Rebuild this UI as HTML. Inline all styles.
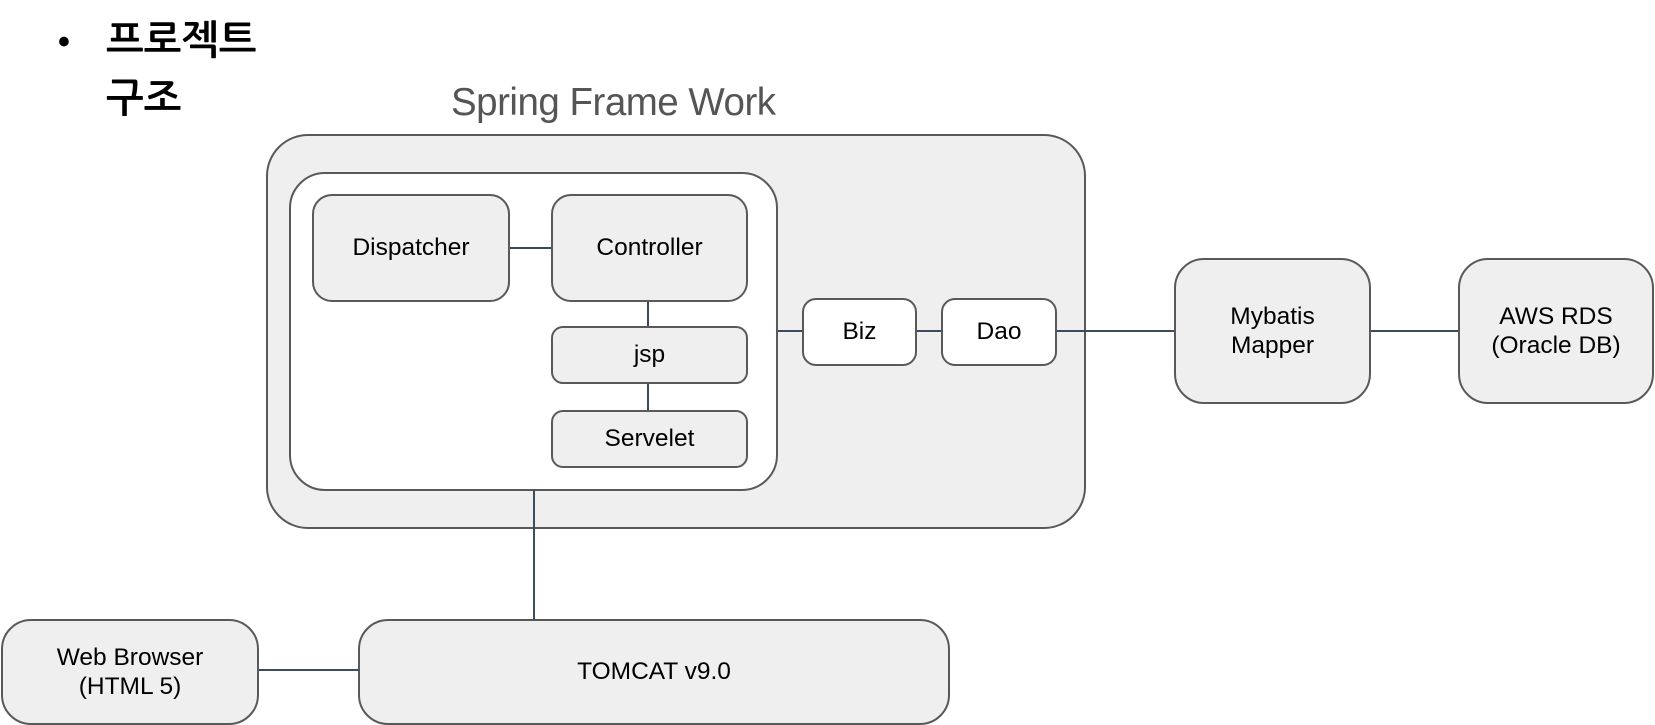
<!DOCTYPE html>
<html><head><meta charset="utf-8"><style>
body{margin:0;width:1655px;height:725px;background:#fff;position:relative;overflow:hidden;font-family:"Liberation Sans",Arial,sans-serif}
.b{position:absolute;box-sizing:border-box;border:2px solid #595959;background:#efefef;display:flex;align-items:center;justify-content:center;text-align:center;font-size:24.5px;color:#000;line-height:1.2}
.l{position:absolute;background:#3d4b5f;z-index:5}
</style></head><body>
<div style="position:absolute;left:58px;top:16px;font-size:34px;font-weight:bold;line-height:52px">•</div>
<div style="position:absolute;left:106px;top:12px;font-size:40px;font-weight:bold;font-family:'Liberation Sans','NanumGothic','Noto Sans CJK KR',sans-serif;line-height:58px">프로젝트<br>구조</div>
<div style="position:absolute;left:451px;top:81px;font-size:38.5px;color:#555;letter-spacing:-0.5px">Spring Frame Work</div>

<div class="b" style="left:266px;top:134px;width:820px;height:395px;border-radius:42px"></div>
<div class="b" style="left:289px;top:172px;width:489px;height:319px;border-radius:36px;background:#fff"></div>
<div class="b" style="left:312px;top:194px;width:198px;height:108px;border-radius:20px">Dispatcher</div>
<div class="b" style="left:551px;top:194px;width:197px;height:108px;border-radius:20px">Controller</div>
<div class="b" style="left:551px;top:326px;width:197px;height:58px;border-radius:12px">jsp</div>
<div class="b" style="left:551px;top:410px;width:197px;height:58px;border-radius:12px">Servelet</div>
<div class="b" style="left:802px;top:298px;width:115px;height:68px;border-radius:14px;background:#fff">Biz</div>
<div class="b" style="left:941px;top:298px;width:116px;height:68px;border-radius:14px;background:#fff">Dao</div>
<div class="b" style="left:1174px;top:258px;width:197px;height:146px;border-radius:30px">Mybatis<br>Mapper</div>
<div class="b" style="left:1458px;top:258px;width:196px;height:146px;border-radius:30px">AWS RDS<br>(Oracle DB)</div>
<div class="b" style="left:1px;top:619px;width:258px;height:106px;border-radius:30px">Web Browser<br>(HTML 5)</div>
<div class="b" style="left:358px;top:619px;width:592px;height:106px;border-radius:30px">TOMCAT v9.0</div>

<div class="l" style="left:533px;top:490px;width:2px;height:130px"></div>
<div class="l" style="left:259px;top:669px;width:100px;height:2px"></div>
<div class="l" style="left:510px;top:247px;width:41px;height:2px"></div>
<div class="l" style="left:647px;top:302px;width:2px;height:24px"></div>
<div class="l" style="left:647px;top:384px;width:2px;height:26px"></div>
<div class="l" style="left:778px;top:330px;width:24px;height:2px"></div>
<div class="l" style="left:917px;top:330px;width:24px;height:2px"></div>
<div class="l" style="left:1057px;top:330px;width:117px;height:2px"></div>
<div class="l" style="left:1371px;top:330px;width:87px;height:2px"></div>
</body></html>
